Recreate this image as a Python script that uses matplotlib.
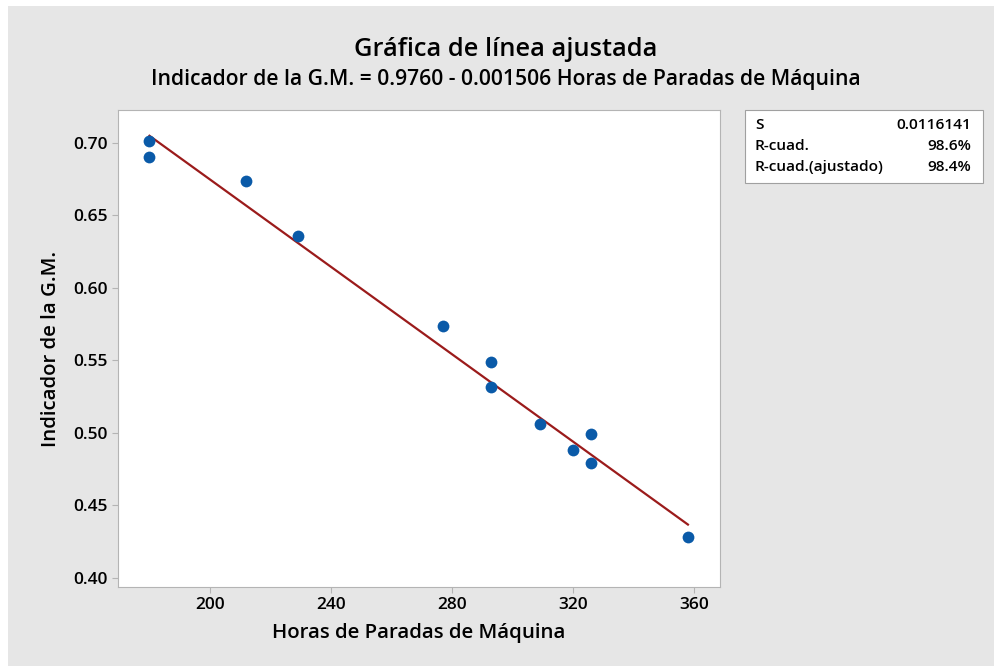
import matplotlib.pyplot as plt
from matplotlib.patches import Rectangle

# datos
horas = [180, 180, 212, 229, 277, 293, 293, 309, 320, 326, 326, 358]
indicador = [0.701, 0.690, 0.674, 0.636, 0.574, 0.549, 0.532, 0.506, 0.488, 0.499, 0.479, 0.428]
b0, b1 = 0.9760, -0.001506
stat_names = ['S', 'R-cuad.', 'R-cuad.(ajustado)']
stat_vals = ['0.0116141', '98.6%', '98.4%']
xticks = [200, 240, 280, 320, 360]
yticks = [0.40, 0.45, 0.50, 0.55, 0.60, 0.65, 0.70]

plt.rcParams['font.family'] = ['Open Sans', 'DejaVu Sans']

fig = plt.figure(figsize=(9.95, 6.66), dpi=100)
fig.patch.set_facecolor('white')
fig.patches.append(Rectangle((8 / 995, 0), 1, 1 - 6 / 666, transform=fig.transFigure,
                             facecolor='#e6e6e6', edgecolor='none', zorder=-10))

ax = fig.add_axes([118 / 995, 1 - 587 / 666, (720 - 118) / 995, (587 - 110) / 666])
ax.set_facecolor('white')

# línea ajustada
xmin, xmax = min(horas), max(horas)
ax.plot([xmin, xmax], [b0 + b1 * xmin, b0 + b1 * xmax], color='#9b1b1b', lw=1.6, zorder=2)
ax.scatter(horas, indicador, s=72, color='#0a5aa8', zorder=3, linewidths=0)

ax.set_xlim(169.6, 368.6)
ax.set_ylim(0.3938, 0.7227)
ax.set_xticks(xticks)
ax.set_yticks(yticks)
ax.set_yticklabels([f'{v:.2f}' for v in yticks])
for s in ax.spines.values():
    s.set_color('#b4b4b4')
ax.tick_params(colors='#b4b4b4', labelcolor='black', labelsize=12.5, length=4)
for lab in ax.get_xticklabels() + ax.get_yticklabels():
    lab.set_fontweight('semibold')

ax.set_xlabel('Horas de Paradas de Máquina', fontsize=14.7, fontweight='semibold', labelpad=7)
ax.set_ylabel('Indicador de la G.M.', fontsize=14.7, fontweight='semibold', labelpad=9)

fig.text(0.508, 1 - 49 / 666, 'Gráfica de línea ajustada', ha='center', va='center',
         fontsize=18.3, fontweight='semibold')
fig.text(0.508, 1 - 80 / 666, 'Indicador de la G.M. = 0.9760 - 0.001506 Horas de Paradas de Máquina',
         ha='center', va='center', fontsize=15.2, fontweight='semibold')

# tabla de estadísticos
fig.patches.append(Rectangle((745 / 995, 1 - 183 / 666), (983 - 745) / 995, 73 / 666,
                             transform=fig.transFigure, facecolor='white',
                             edgecolor='#a0a0a0', lw=0.8))
for i, (n, v) in enumerate(zip(stat_names, stat_vals)):
    y = 1 - (125 + i * 21) / 666
    fig.text(755 / 995, y, n, ha='left', va='center', fontsize=11.1, fontweight='semibold')
    fig.text(971 / 995, y, v, ha='right', va='center', fontsize=11.1, fontweight='semibold')

plt.savefig('out.png', dpi=100)
